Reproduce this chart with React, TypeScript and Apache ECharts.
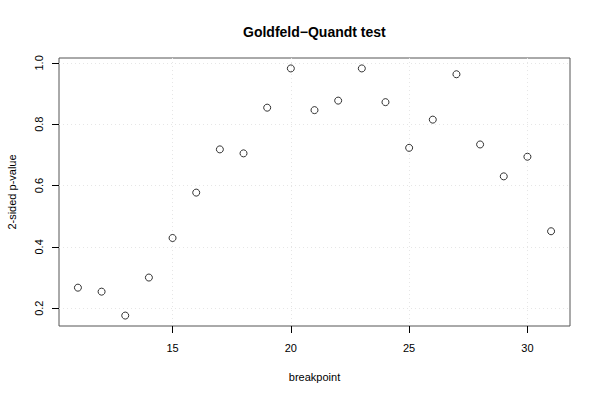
import React, { useEffect, useRef } from "react";
import * as echarts from "echarts";

const breakpoints = [11, 12, 13, 14, 15, 16, 17, 18, 19, 20, 21, 22, 23, 24, 25, 26, 27, 28, 29, 30, 31];
const pValues = [0.267, 0.254, 0.176, 0.300, 0.429, 0.577, 0.718, 0.705, 0.854, 0.982, 0.846, 0.877, 0.982, 0.872, 0.723, 0.815, 0.963, 0.734, 0.630, 0.694, 0.451];
const xTicks = [15, 20, 25, 30];
const yTicks = [0.2, 0.4, 0.6, 0.8, 1.0];

export default function App() {
  const ref = useRef<HTMLDivElement>(null);
  useEffect(() => {
    const chart = echarts.init(ref.current!, null, { renderer: "svg" });
    const font = "Liberation Sans, Arial, Helvetica, sans-serif";
    chart.setOption({
      animation: false,
      backgroundColor: "#ffffff",
      title: {
        text: "Goldfeld\u2212Quandt test",
        left: 238,
        top: 20,
        textStyle: { fontFamily: font, fontSize: 14, fontWeight: "bold", color: "#000" },
      },
      grid: {
        left: 59,
        right: 30,
        top: 58,
        bottom: 74,
        show: true,
        borderColor: "#555",
        borderWidth: 1,
        backgroundColor: "transparent",
        containLabel: false,
        outerBoundsMode: "none",
      },
      xAxis: {
        type: "value",
        min: 10.2,
        max: 31.8,
        name: "breakpoint",
        nameLocation: "middle",
        nameGap: 45,
        nameTextStyle: { fontFamily: font, fontSize: 11, color: "#000" },
        axisLine: { show: false },
        axisTick: { show: true, length: 7, lineStyle: { color: "#000" }, customValues: xTicks },
        axisLabel: { fontFamily: font, fontSize: 11, color: "#000", margin: 16, customValues: xTicks },
        splitLine: { show: true, lineStyle: { color: "#e6e6e6", type: [1, 3] } },
      },
      yAxis: {
        type: "value",
        min: 0.142,
        max: 1.016,
        name: "2-sided p-value",
        nameLocation: "middle",
        nameGap: 42,
        nameRotate: 90,
        nameTextStyle: { fontFamily: font, fontSize: 11, color: "#000" },
        axisLine: { show: false },
        axisTick: { show: true, length: 7, lineStyle: { color: "#000" }, customValues: yTicks },
        axisLabel: {
          fontFamily: font,
          fontSize: 11,
          color: "#000",
          rotate: 90,
          margin: 15,
          customValues: yTicks,
          formatter: (v: number) => v.toFixed(1),
        },
        splitLine: { show: true, lineStyle: { color: "#e6e6e6", type: [1, 3] } },
      },
      series: [
        {
          type: "scatter",
          data: breakpoints.map((b, i) => [b, pValues[i]]),
          symbol: "circle",
          symbolSize: 7,
          itemStyle: { color: "transparent", borderColor: "#000", borderWidth: 1 },
        },
      ],
    });
    return () => chart.dispose();
  }, []);
  return <div ref={ref} style={{ width: 600, height: 400, position: "absolute", left: 0, top: 0 }} />;
}
